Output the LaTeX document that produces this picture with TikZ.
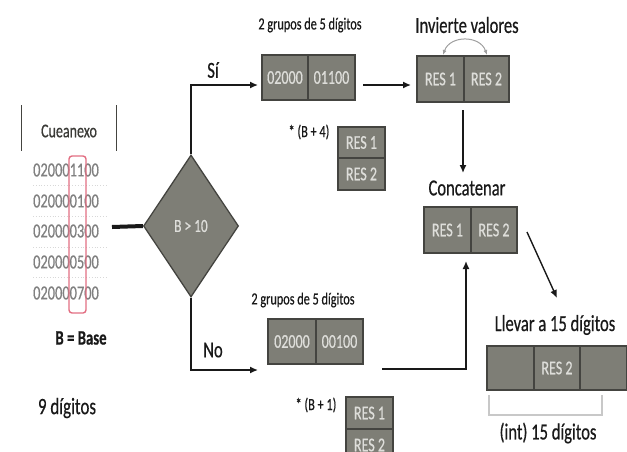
\documentclass[tikz,border=0pt]{standalone}
\usepackage{fontspec}
\setmainfont{Carlito}[FakeStretch=0.72,FakeBold=0.5]
\usetikzlibrary{shapes.geometric,arrows.meta,calc}
\definecolor{boxfill}{RGB}{126,126,118}
\definecolor{boxline}{RGB}{68,68,64}
\definecolor{celltext}{RGB}{222,222,218}
\definecolor{digit}{RGB}{128,128,128}
\definecolor{redbox}{RGB}{226,110,130}
\definecolor{lab}{RGB}{25,25,25}
\definecolor{brk}{RGB}{200,200,200}
\tikzset{
  cell/.style={draw=boxline, fill=boxfill, line width=1.3pt, inner sep=0pt,
    text=celltext, font=\fontsize{19.5}{19.5}\selectfont},
  lbl/.style={text=lab, inner sep=0pt, font=\fontsize{23}{23}\selectfont},
  smalllbl/.style={text=lab, inner sep=0pt, font=\fontsize{17}{17}\selectfont},
  digits/.style={text=digit, inner sep=0pt, font=\fontsize{20}{20}\selectfont},
  arr/.style={draw=lab, line width=1.4pt, -{Latex[length=8pt,width=7pt]}},
}
\begin{document}
\begin{tikzpicture}[x=1pt,y=-1pt]
\useasboundingbox (0,0) rectangle (627,451);
% table
\draw[boxline, line width=1pt] (21,105) -- (21,151);
\draw[boxline, line width=1pt] (116,105) -- (116,151);
\node[lbl, text=boxline!85!black, font=\fontsize{19.5}{19.5}\selectfont] (cue) at (69,131) {Cueanexo};
\foreach \y/\v [count=\i] in {170/020001100,201/020000100,231/020000300,262/020000500,293/020000700}{
  \node[digits] (r\i) at (66,\y) {\v};
}
\foreach \y in {185,216,247,277}{
  \draw[brk!70, dotted, line width=0.8pt] (33,\y) -- (108,\y);
}
\draw[redbox, line width=1.4pt, rounded corners=3pt] (69,156) rectangle (86,313);
\node[lbl, font=\bfseries\fontsize{20.5}{20.5}\selectfont] (base) at (81,338) {B = Base};
\node[lbl, font=\fontsize{23.5}{23.5}\selectfont] (nueve) at (67,408) {9 dígitos};
% diamond
\node[diamond, draw=boxline, fill=boxfill, line width=1.3pt, inner sep=0pt,
  minimum width=95pt, minimum height=142pt, aspect=0.67,
  text=celltext, font=\fontsize{18.5}{18.5}\selectfont] (dia) at (191,226) {B > 10};
\coordinate (tl) at (112,227);
\draw[lab, line width=4pt] (tl) -- (dia.west);
% labels
\node[lbl] (si) at (213,70) {Sí};
\node[lbl] (no) at (213,350) {No};
\node[smalllbl] (g5a) at (310,25) {2 grupos de 5 dígitos};
\node[smalllbl] (g5b) at (303,300) {2 grupos de 5 dígitos};
\node[smalllbl] (b4) at (309,132) {* (B + 4)};
\node[smalllbl] (b1) at (316,405) {* (B + 1)};
\node[lbl] (inv) at (467,25) {Invierte valores};
\node[lbl] (conc) at (467,188) {Concatenar};
\node[lbl] (llev) at (555,325) {Llevar a 15 dígitos};
\node[lbl] (int) at (548,433) {(int) 15 dígitos};
% boxes
\node[cell, minimum width=46pt, minimum height=45pt] (a1) at (285,77.5) {02000};
\node[cell, minimum width=47pt, minimum height=45pt] (a2) at (331.5,77.5) {01100};
\node[cell, minimum width=47pt, minimum height=46pt] (v1) at (440.5,79) {RES 1};
\node[cell, minimum width=45pt, minimum height=46pt] (v2) at (486.5,79) {RES 2};
\node[cell, minimum width=47pt, minimum height=46pt] (c1) at (447.5,230) {RES 1};
\node[cell, minimum width=46pt, minimum height=46pt] (c2) at (494,230) {RES 2};
\node[cell, minimum width=48pt, minimum height=45pt] (d1) at (292,341.5) {02000};
\node[cell, minimum width=47pt, minimum height=45pt] (d2) at (339.5,341.5) {00100};
\node[cell, minimum width=47pt, minimum height=31pt] (e1) at (361.5,142.5) {RES 1};
\node[cell, minimum width=47pt, minimum height=32pt] (e2) at (361.5,174) {RES 2};
\node[cell, minimum width=47pt, minimum height=32pt] (f1) at (369.5,413) {RES 1};
\node[cell, minimum width=47pt, minimum height=32pt] (f2) at (369.5,445) {RES 2};
\node[cell, minimum width=47pt, minimum height=44pt] (h1) at (510.5,368) {};
\node[cell, minimum width=46pt, minimum height=44pt] (h2) at (557,368) {RES 2};
\node[cell, minimum width=47pt, minimum height=44pt] (h3) at (603.5,368) {};
% bracket
\coordinate (k1) at (489,395);
\coordinate (k2) at (602,395);
\draw[brk, line width=1.2pt] (k1) -- ++(0,20) -| (k2);
% connectors
\coordinate (siend) at (258,85);
\draw[arr] (dia.north) |- (siend);
\coordinate (noend) at (258,370);
\draw[arr] (dia.south) |- (noend);
\coordinate (s1) at (363,85);
\coordinate (s2) at (411,85);
\draw[arr] (s1) -- (s2);
\coordinate (i1) at (463,110);
\coordinate (i2) at (463,173);
\draw[arr] (i1) -- (i2);
\coordinate (n1) at (382,369);
\coordinate (n2) at (466,261);
\draw[arr] (n1) -| (n2);
\coordinate (x1) at (527,232);
\coordinate (x2) at (557,298);
\draw[arr] (x1) -- (x2);
\coordinate (sw1) at (443,55);
\coordinate (sw2) at (487,55);
\draw[brk!80!black, line width=1pt, {Latex[length=5pt,width=4pt]}-{Latex[length=5pt,width=4pt]}]
  (sw1) .. controls (450,35) and (480,35) .. (sw2);
\end{tikzpicture}
\end{document}
